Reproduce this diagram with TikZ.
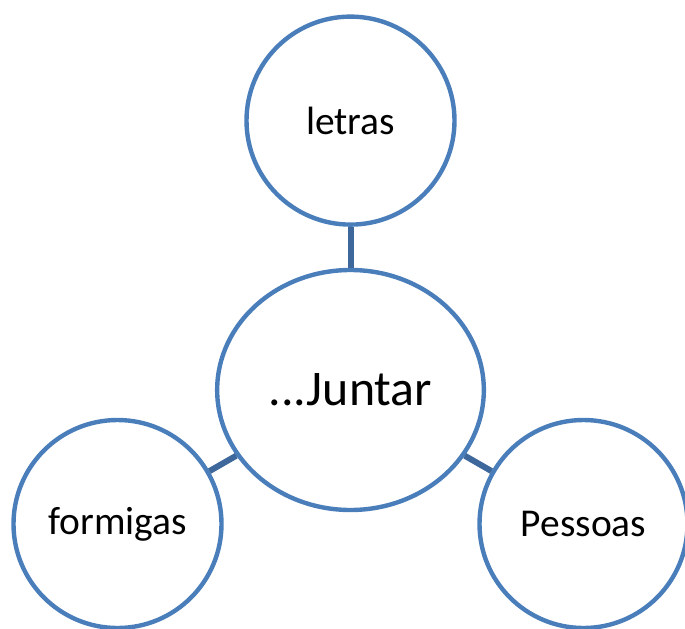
\documentclass[tikz,border=0pt]{standalone}
\usepackage{fontspec}
\setmainfont{Carlito}
\usepackage{tikz}
\usetikzlibrary{shapes.geometric, positioning}
\definecolor{ringblue}{RGB}{74,126,187}
\definecolor{linkblue}{RGB}{62,104,156}

\begin{document}
\begin{tikzpicture}[
    x=0.75pt, y=-0.75pt,
    idea/.style={circle, draw=ringblue, line width=3.3pt, fill=white,
                minimum size=156pt, inner sep=0pt,
                font=\fontsize{29.6}{34}\selectfont},
    hub/.style={ellipse, draw=ringblue, line width=3.3pt, fill=white,
                minimum width=200pt, minimum height=180pt, inner sep=0pt,
                font=\fontsize{37.4}{44}\selectfont},
    link/.style={draw=linkblue, line width=4.5pt}
]
    \useasboundingbox (0,0) rectangle (685,628);

    % Centre
    \node[hub] (juntar) at (350.5,390) {...Juntar};

    % Outer circles
    \node[idea, above=30.75pt of juntar] (letras) {letras};
    \node[idea] (formigas) at (117.5,524) {formigas};
    \node[idea] (pessoas) at (583.5,524) {Pessoas};

    % Links
    \draw[link] (juntar) -- (letras);
    \draw[link] (juntar) -- (formigas);
    \draw[link] (juntar) -- (pessoas);
\end{tikzpicture}
\end{document}
